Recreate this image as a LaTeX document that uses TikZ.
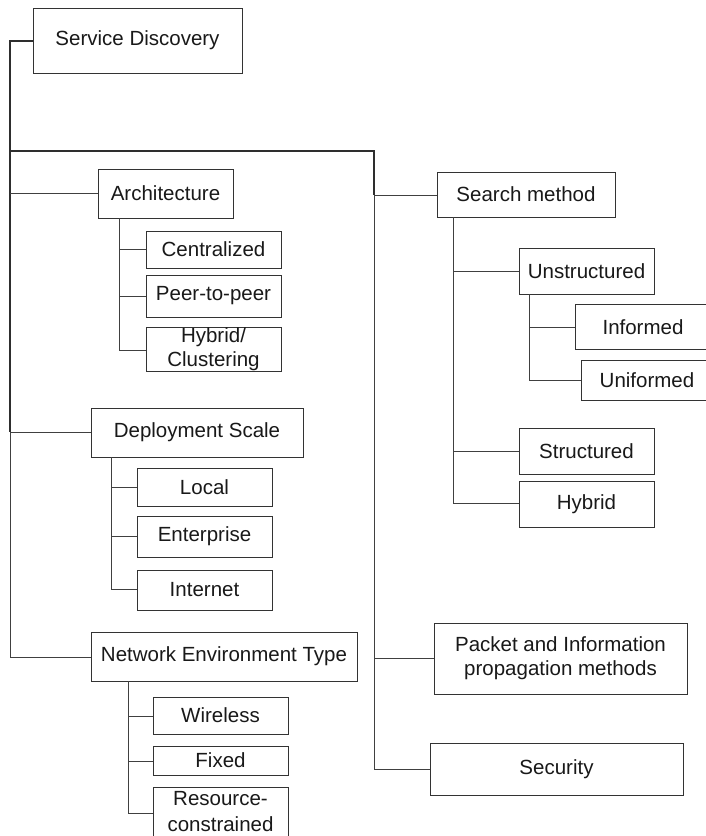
\documentclass[tikz,border=0pt]{standalone}
\usepackage{fontspec}
\setmainfont{Liberation Sans}
\begin{document}
\begin{tikzpicture}[x=1pt,y=-1pt,
  box/.style={draw=black!80, line width=0.9pt, fill=white, inner sep=0pt, align=center,
    font=\fontsize{20.5}{24}\selectfont, text=black!90},
  lbl/.style={font=\fontsize{20.5}{24}\selectfont, text=black!90, align=center},
  thick trunk/.style={draw=black!82, line width=1.8pt},
  thin link/.style={draw=black!75, line width=0.9pt}]
\useasboundingbox (0,0) rectangle (706,836);
\clip (0,0) rectangle (706,836);
\newcommand{\bx}[6]{\node[box, minimum width=#4-#2, minimum height=#5-#3] (#1) at ({(#2+#4)/2},{(#3+#5)/2}) {#6};}
\bx{sd}{33}{8}{242}{73}{Service Discovery}
\bx{arch}{98}{169}{233}{218}{Architecture}
\bx{cen}{146}{231}{281}{268}{Centralized}
\bx{p2p}{146}{275}{281}{317}{Peer-to-peer}
\bx{hyb}{146}{327}{281}{371}{Hybrid/\\Clustering}
\bx{dep}{91}{408}{303}{457}{Deployment Scale}
\bx{loc}{137}{468}{272}{506}{Local}
\bx{ent}{137}{516}{272}{557}{Enterprise}
\bx{inet}{137}{570}{272}{610}{Internet}
\bx{net}{91}{632}{357}{681}{Network Environment Type}
\bx{wir}{153}{697}{288}{734}{Wireless}
\bx{fix}{153}{746}{288}{775}{Fixed}
\node[box, minimum width=135, minimum height=62, anchor=north west] (res) at (153,787) {};
\node[lbl, font=\fontsize{20.5}{26}\selectfont] (restxt) at (220.5,812) {Resource-\\constrained};
\bx{srch}{437}{172}{615}{217}{Search method}
\bx{unst}{519}{248}{654}{294}{Unstructured}
\node[box, minimum width=140, minimum height=45, anchor=north west] (inf) at (575,304) {};
\node[lbl] (inftxt) at (643,327) {Informed};
\node[box, minimum width=140, minimum height=40, anchor=north west] (unif) at (581,360) {};
\node[lbl] (uniftxt) at (647,380) {Uniformed};
\bx{str}{519}{428}{654}{474}{Structured}
\bx{hy2}{519}{481}{654}{527}{Hybrid}
\bx{pkt}{434}{623}{687}{694}{Packet and Information\\propagation methods}
\bx{sec}{430}{743}{683}{795}{Security}
% trunk
\coordinate (t0) at (10,41);
\coordinate (t1) at (10,151);
\coordinate (t2) at (374,151);
\draw[thick trunk] (sd.west |- t0) -- (t0) -- (10,432);
\draw[thick trunk] (t1) -- (t2) -- (374,195);
\draw[thin link] (10,432) -- (10,657);
\draw[thin link] (374,195) -- (374,769);
\draw[thin link] (10,193) -- (arch.west |- 0,193);
\draw[thin link] (10,432) -- (dep.west |- 0,432);
\draw[thin link] (10,657) -- (net.west |- 0,657);
\draw[thin link] (374,195) -- (srch.west |- 0,195);
\draw[thin link] (374,658) -- (pkt.west |- 0,658);
\draw[thin link] (374,769) -- (sec.west |- 0,769);
% architecture
\draw[thin link] (arch.south -| 119,0) -- (119,350);
\draw[thin link] (119,249) -- (cen.west |- 0,249);
\draw[thin link] (119,296) -- (p2p.west |- 0,296);
\draw[thin link] (119,350) -- (hyb.west |- 0,350);
% deployment
\draw[thin link] (dep.south -| 111,0) -- (111,589);
\draw[thin link] (111,487) -- (loc.west |- 0,487);
\draw[thin link] (111,536) -- (ent.west |- 0,536);
\draw[thin link] (111,589) -- (inet.west |- 0,589);
% network
\draw[thin link] (net.south -| 128,0) -- (128,813);
\draw[thin link] (128,716) -- (wir.west |- 0,716);
\draw[thin link] (128,761) -- (fix.west |- 0,761);
\draw[thin link] (128,813) -- (res.west |- 0,813);
% search
\draw[thin link] (srch.south -| 453,0) -- (453,503);
\draw[thin link] (453,271) -- (unst.west |- 0,271);
\draw[thin link] (453,451) -- (str.west |- 0,451);
\draw[thin link] (453,503) -- (hy2.west |- 0,503);
\draw[thin link] (unst.south -| 529,0) -- (529,380);
\draw[thin link] (529,327) -- (inf.west |- 0,327);
\draw[thin link] (529,380) -- (unif.west |- 0,380);
\end{tikzpicture}
\end{document}
